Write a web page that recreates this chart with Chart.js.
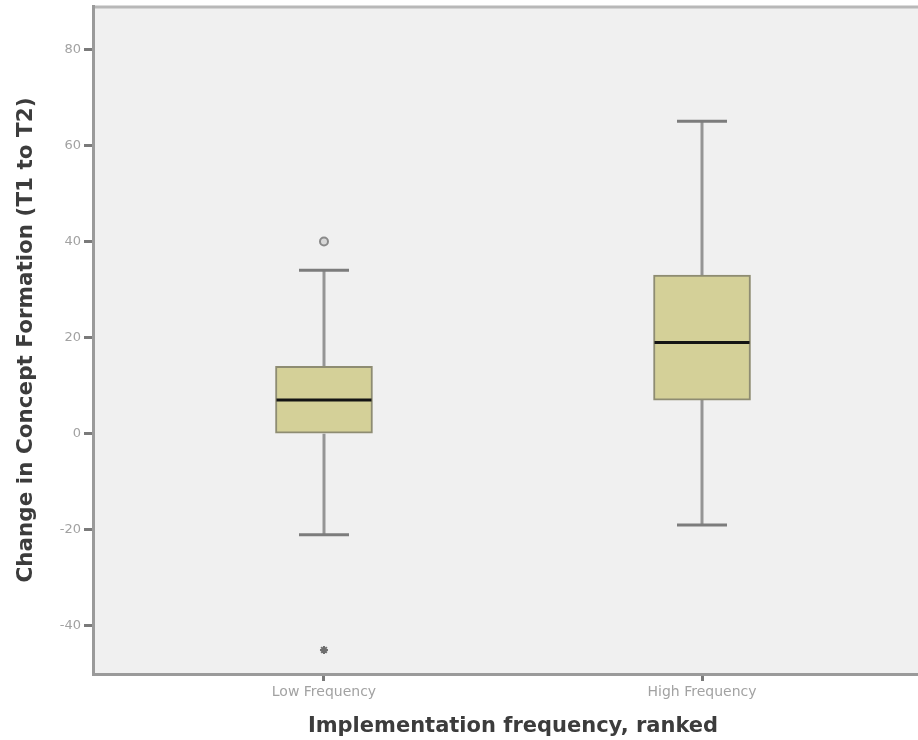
<!DOCTYPE html>
<html><head><meta charset="utf-8">
<script src="https://cdn.jsdelivr.net/npm/chart.js@4"></script>
<style>html,body{margin:0;padding:0;overflow:hidden;background:#fff}
#wrap{width:940px;height:740px;position:relative}</style></head>
<body><div id="wrap"><canvas id="c" width="940" height="740"></canvas></div>
<script>
const categories = ['Low Frequency', 'High Frequency'];
const whiskerLow = [-21, -19];
const q1 = [0, 7];
const median = [7, 19];
const q3 = [14, 33];
const whiskerHigh = [34, 65];
const outliers = [[40], []];
const extremes = [[-45], []];
const yTicks = [-40, -20, 0, 20, 40, 60, 80];

const FONT = "'DejaVu Sans', sans-serif";

const boxPlugin = {
  id: 'boxparts',
  beforeDraw(chart) {
    const {ctx, chartArea: a} = chart;
    ctx.save();
    ctx.fillStyle = '#f0f0f0';
    ctx.fillRect(a.left, a.top, a.right - a.left, a.bottom - a.top);
    ctx.strokeStyle = '#b8b8b8';
    ctx.lineWidth = 3;
    ctx.beginPath();
    ctx.moveTo(a.left, a.top + 1);
    ctx.lineTo(a.right, a.top + 1);
    ctx.stroke();
    ctx.restore();
  },
  beforeDatasetsDraw(chart) {
    const {ctx, scales: {x, y}} = chart;
    ctx.save();
    categories.forEach((c, i) => {
      const px = Math.round(x.getPixelForValue(i + 1));
      ctx.strokeStyle = '#959595';
      ctx.lineWidth = 3;
      ctx.beginPath();
      ctx.moveTo(px, y.getPixelForValue(q3[i]));
      ctx.lineTo(px, y.getPixelForValue(whiskerHigh[i]));
      ctx.moveTo(px, y.getPixelForValue(q1[i]));
      ctx.lineTo(px, y.getPixelForValue(whiskerLow[i]));
      ctx.stroke();
      ctx.strokeStyle = '#7c7c7c';
      ctx.lineWidth = 3;
      ctx.beginPath();
      [whiskerHigh[i], whiskerLow[i]].forEach(v => {
        const py = y.getPixelForValue(v);
        ctx.moveTo(px - 25, py);
        ctx.lineTo(px + 25, py);
      });
      ctx.stroke();
    });
    ctx.restore();
  },
  afterDatasetsDraw(chart) {
    const {ctx, scales: {y}} = chart;
    const meta = chart.getDatasetMeta(0);
    ctx.save();
    categories.forEach((c, i) => {
      const bar = meta.data[i];
      const half = bar.width / 2;
      const px = bar.x;
      const py = y.getPixelForValue(median[i]);
      ctx.strokeStyle = '#141414';
      ctx.lineWidth = 3;
      ctx.beginPath();
      ctx.moveTo(px - half + 1, py);
      ctx.lineTo(px + half - 1, py);
      ctx.stroke();
    });
    ctx.restore();
  }
};

new Chart(document.getElementById('c'), {
  data: {
    datasets: [
      {
        type: 'bar',
        data: categories.map((c, i) => ({x: i + 1, y: [q1[i], q3[i]]})),
        backgroundColor: '#d4d098',
        borderColor: '#8e8c72',
        borderWidth: 2,
        borderSkipped: false,
        barThickness: 97
      },
      {
        type: 'scatter',
        data: categories.flatMap((c, i) => outliers[i].map(v => ({x: i + 1, y: v}))),
        pointStyle: 'circle',
        radius: 4,
        borderWidth: 2,
        borderColor: '#8a8a8a',
        backgroundColor: '#d8d8d8'
      },
      {
        type: 'scatter',
        data: categories.flatMap((c, i) => extremes[i].map(v => ({x: i + 1, y: v}))),
        pointStyle: 'star',
        radius: 4,
        borderWidth: 2,
        borderColor: '#6e6e6e',
        backgroundColor: '#6e6e6e'
      }
    ]
  },
  options: {
    responsive: false,
    animation: false,
    events: [],
    layout: {padding: {top: 4, right: 7, bottom: 0, left: 0}},
    plugins: {legend: {display: false}, tooltip: {enabled: false}},
    scales: {
      x: {
        type: 'linear',
        min: 0.389,
        max: 2.611,
        offset: false,
        afterBuildTicks: s => { s.ticks = categories.map((c, i) => ({value: i + 1})); },
        afterFit: s => { s.height = 66; s.paddingLeft = 0; s.paddingRight = 0; },
        ticks: {
          callback: v => categories[v - 1],
          font: {family: FONT, size: 14},
          color: '#a2a2a2',
          padding: 3,
          maxRotation: 0
        },
        grid: {display: true, offset: false, drawOnChartArea: false, drawTicks: true, tickLength: 7, tickColor: '#7a7a7a', tickWidth: 3},
        border: {color: '#9a9a9a', width: 3},
        title: {
          display: true,
          text: 'Implementation frequency, ranked',
          font: {family: FONT, size: 21, weight: 'bold'},
          color: '#3c3c3c',
          padding: {top: 0, bottom: 1}
        }
      },
      y: {
        type: 'linear',
        min: -50,
        max: 89,
        afterBuildTicks: s => { s.ticks = yTicks.map(v => ({value: v})); },
        afterFit: s => { s.width = 93; s.paddingTop = 0; s.paddingBottom = 0; },
        ticks: {
          font: {family: FONT, size: 13},
          color: '#a2a2a2',
          padding: 3
        },
        grid: {display: true, drawOnChartArea: false, drawTicks: true, tickLength: 9, tickColor: '#7a7a7a', tickWidth: 3},
        border: {color: '#9a9a9a', width: 3},
        title: {
          display: true,
          text: 'Change in Concept Formation (T1 to T2)',
          font: {family: FONT, size: 21.5, weight: 'bold'},
          color: '#3c3c3c',
          padding: {top: 14, bottom: 0}
        }
      }
    }
  },
  plugins: [boxPlugin]
});
</script>
</body></html>
